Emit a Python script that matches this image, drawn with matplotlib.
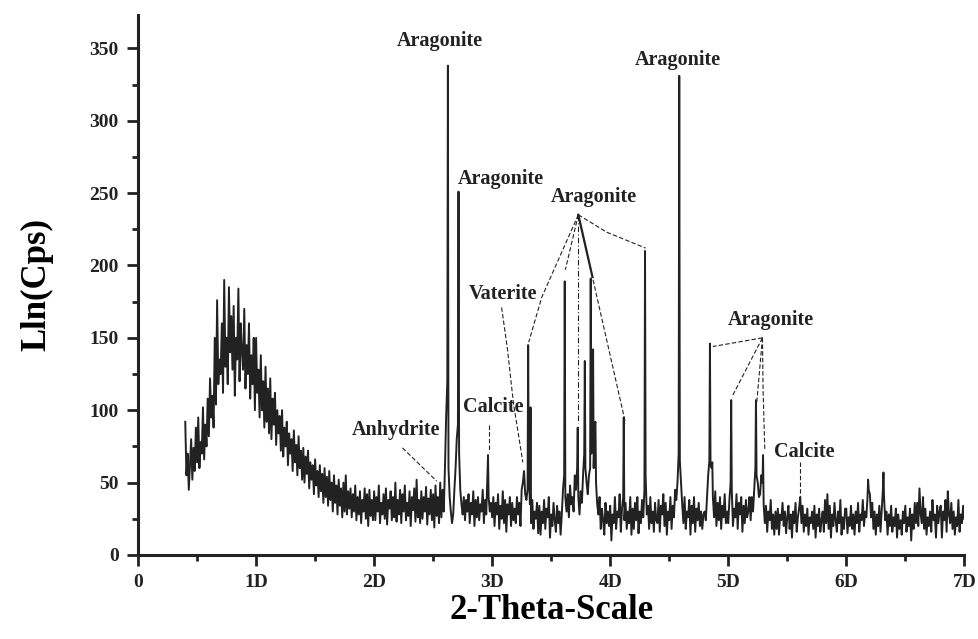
# -*- coding: utf-8 -*-
# XRD pattern with phase labels

import numpy as np
import matplotlib.pyplot as plt

# %% data

# background trace, one value every 0.01 from 0.40 to 7.00
x_start = 0.40
x_step = 0.01
base_y = [
    92, 55, 70, 45, 62, 80, 52, 74, 58, 88, 64, 95, 60, 78, 70, 102, 66, 90, 75, 108,        # 0.40
    82, 122, 95, 110, 88, 150, 104, 176, 118, 135, 125, 160, 112, 190, 130, 150, 118, 185, 140, 165,  # 0.60
    128, 172, 110, 150, 135, 184, 120, 160, 140, 128, 170, 115, 145, 125, 160, 108, 138, 118, 150, 100,  # 0.80
    150, 112, 128, 95, 138, 100, 120, 88, 130, 92, 115, 84, 122, 80, 108, 90, 112, 76, 100, 84,  # 1.00
    96, 72, 100, 68, 88, 75, 92, 62, 84, 70, 80, 58, 86, 64, 76, 55, 82, 60, 72, 52,          # 1.20
    74, 50, 68, 56, 72, 46, 64, 52, 62, 42, 66, 48, 58, 40, 62, 44, 56, 36, 60, 40,          # 1.40
    54, 34, 58, 38, 50, 30, 55, 36, 48, 28, 52, 34, 46, 26, 50, 30, 55, 28, 44, 32,          # 1.60
    46, 26, 42, 30, 48, 24, 40, 28, 44, 22, 38, 30, 46, 25, 42, 20, 45, 27, 38, 24,          # 1.80
    44, 24, 40, 30, 48, 22, 36, 28, 42, 25, 46, 21, 38, 32, 44, 24, 40, 26, 50, 23,          # 2.00
    38, 28, 45, 22, 42, 30, 48, 24, 36, 27, 44, 20, 40, 31, 46, 23, 52, 26, 38, 22,          # 2.20
    44, 25, 40, 30, 47, 21, 39, 28, 45, 24, 42, 19, 48, 27, 40, 22, 50, 26, 45, 30,          # 2.40
    60, 95, 120, 60, 40, 30, 22, 28, 45, 60, 80, 90, 70, 45, 35, 28, 40, 24, 38, 30,         # 2.60
    42, 22, 36, 28, 44, 20, 38, 26, 40, 24, 35, 30, 45, 22, 38, 28, 55, 40, 30, 36,          # 2.80
    26, 40, 20, 36, 28, 42, 18, 34, 25, 44, 22, 38, 16, 35, 28, 40, 20, 36, 24, 32,          # 3.00
    22, 40, 28, 36, 20, 45, 50, 58, 42, 38, 45, 60, 35, 22, 38, 18, 30, 25, 36, 15,          # 3.20
    34, 14, 30, 22, 38, 18, 32, 26, 40, 12, 28, 20, 36, 24, 16, 34, 22, 30, 14, 28,          # 3.40
    45, 55, 40, 30, 42, 26, 48, 35, 40, 30, 55, 45, 60, 40, 28, 44, 36, 55, 70, 60,          # 3.60
    50, 42, 55, 60, 70, 75, 60, 90, 50, 35, 28, 40, 18, 32, 24, 14, 36, 22, 30, 20,          # 3.80
    34, 10, 28, 22, 40, 18, 30, 26, 42, 16, 32, 40, 24, 36, 18, 30, 22, 40, 14, 32,          # 4.00
    18, 36, 24, 40, 15, 30, 22, 38, 26, 45, 55, 28, 34, 18, 40, 22, 30, 16, 36, 24,          # 4.20
    22, 38, 16, 34, 28, 42, 20, 36, 14, 30, 24, 40, 18, 34, 26, 45, 38, 50, 70, 65,          # 4.40
    50, 35, 22, 40, 18, 30, 26, 38, 14, 34, 22, 40, 16, 32, 24, 36, 20, 30, 18, 28,          # 4.60
    30, 24, 40, 55, 65, 62, 60, 40, 26, 44, 20, 36, 24, 40, 18, 34, 26, 42, 22, 30,          # 4.80
    22, 38, 50, 45, 20, 32, 26, 42, 18, 36, 28, 40, 16, 34, 22, 38, 26, 30, 40, 24,          # 5.00
    40, 30, 45, 60, 55, 50, 40, 42, 55, 50, 35, 22, 34, 16, 30, 24, 38, 18, 28, 14,          # 5.20
    30, 18, 32, 14, 28, 24, 36, 20, 30, 15, 26, 34, 18, 28, 12, 30, 22, 36, 16, 26,          # 5.40
    32, 40, 22, 34, 16, 28, 20, 32, 14, 26, 22, 30, 18, 34, 12, 28, 20, 32, 16, 24,          # 5.60
    30, 16, 38, 22, 42, 18, 34, 12, 28, 20, 36, 24, 16, 30, 22, 38, 14, 26, 18, 32,          # 5.80
    32, 15, 26, 20, 34, 18, 28, 14, 30, 22, 36, 16, 28, 24, 38, 20, 30, 26, 40, 45,          # 6.00
    42, 26, 36, 18, 30, 14, 28, 20, 34, 16, 30, 45, 40, 24, 30, 14, 28, 20, 34, 16,          # 6.20
    26, 20, 32, 12, 28, 18, 24, 14, 30, 22, 34, 16, 26, 20, 32, 10, 28, 18, 36, 22,          # 6.40
    36, 20, 46, 28, 22, 40, 18, 32, 14, 26, 20, 30, 16, 38, 24, 28, 12, 34, 22, 30,          # 6.60
    34, 12, 30, 24, 38, 16, 44, 28, 22, 36, 18, 30, 14, 26, 20, 38, 16, 28, 22, 34,          # 6.80
    25,                                                                                      # 7.00
]

# sharp reflections
peak_x = [2.625, 2.715, 2.965, 3.305, 3.325, 3.615, 3.725, 3.785, 3.835, 3.855,
          3.875, 4.115, 4.295, 4.585, 4.845, 4.865, 5.025, 5.235, 5.295,
          6.185, 6.315]
peak_y = [338, 251, 69, 145, 102, 189, 88, 134, 191, 142,
          92, 95, 210, 331, 146, 64, 107, 107, 69,
          52, 57]

x_ticks = [0, 1, 2, 3, 4, 5, 6, 7]
x_tick_labels = ["0", "1D", "2D", "3D", "4D", "5D", "6D", "7D"]
y_ticks = [0, 50, 100, 150, 200, 250, 300, 350]

# labels: text, x, y
labels = [
    ("Aragonite", 2.56, 355),
    ("Aragonite", 3.07, 260),
    ("Aragonite", 3.86, 247),
    ("Aragonite", 4.57, 342),
    ("Aragonite", 5.36, 162),
    ("Vaterite", 3.09, 180),
    ("Calcite", 3.01, 102),
    ("Calcite", 5.64, 71),
    ("Anhydrite", 2.19, 86),
]

# leader lines: xs, ys, style
leaders = [
    ([2.24, 2.53], [74, 51], "dash"),
    ([2.97, 2.97], [90, 71], "dash"),
    ([3.08, 3.13, 3.18, 3.26], [171, 142, 105, 64], "dash"),
    ([3.73, 3.42, 3.31], [235, 178, 147], "dash"),
    ([3.73, 3.62], [235, 197], "dash"),
    ([3.73, 3.73], [235, 91], "dashdot"),
    ([3.73, 4.13], [235, 91], "dash"),
    ([3.73, 3.85], [235, 192], "solid"),
    ([3.73, 3.97, 4.30], [235, 223, 212], "dash"),
    ([5.29, 4.87], [150, 144], "dash"),
    ([5.29, 5.03], [150, 109], "dash"),
    ([5.29, 5.24], [150, 104], "dash"),
    ([5.29, 5.295, 5.31], [150, 115, 72], "dash"),
    ([5.61, 5.61], [64, 40], "dash"),
]

# %% build trace

bx = x_start + x_step * np.arange(len(base_y))
xs = np.concatenate([bx, peak_x])
ys = np.concatenate([base_y, peak_y])
order = np.argsort(xs)
xs = xs[order]
ys = ys[order]

# %% plot

plt.rcParams["font.family"] = ["Liberation Serif", "DejaVu Serif"]
plt.rcParams["font.weight"] = "bold"

fig = plt.figure(figsize=(9.79, 6.39), dpi=100)
ax = fig.add_axes([0.141, 0.1315, 0.844, 0.845])

ax.plot(xs, ys, color="#222222", lw=1.4)

for xx, yy, style in leaders:
    if style == "solid":
        ax.plot(xx, yy, color="#222222", lw=1.6)
    elif style == "dashdot":
        ax.plot(xx, yy, color="#222222", lw=0.8, dashes=(5, 2, 1, 2))
    else:
        ax.plot(xx, yy, color="#222222", lw=0.8, dashes=(4, 2))

for txt, tx, ty in labels:
    ax.text(tx, ty, txt, ha="center", va="center", fontsize=14.5,
            fontweight="bold", color="#222222")

ax.set_xlim(0, 7)
ax.set_ylim(0, 373)
ax.set_xticks(x_ticks)
ax.set_xticklabels(x_tick_labels)
ax.set_xticks(np.arange(0.5, 7, 1), minor=True)
ax.set_yticks(y_ticks)
ax.set_yticks(np.arange(25, 375, 50), minor=True)

for s in ["top", "right"]:
    ax.spines[s].set_visible(False)
for s in ["left", "bottom"]:
    ax.spines[s].set_linewidth(2.2)
    ax.spines[s].set_color("#222222")

ax.tick_params(which="major", direction="out", length=8, width=2,
               labelsize=14, colors="#222222", pad=6)
ax.tick_params(which="minor", direction="out", length=4, width=2,
               colors="#222222")
for lab in ax.get_xticklabels() + ax.get_yticklabels():
    lab.set_fontweight("bold")

ax.set_xlabel("2-Theta-Scale", fontsize=25, fontweight="bold", labelpad=2)
ax.set_ylabel("Lln(Cps)", fontsize=25, fontweight="bold", labelpad=26)

fig.savefig("out.png", dpi=100)
